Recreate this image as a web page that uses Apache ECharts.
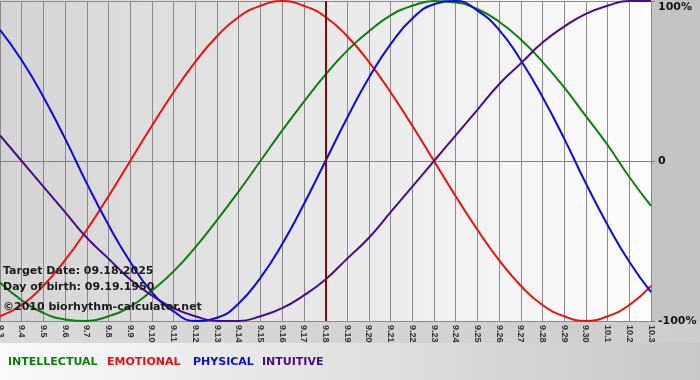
<!DOCTYPE html>
<html><head><meta charset="utf-8">
<script src="https://cdn.jsdelivr.net/npm/echarts@6.0.0/dist/echarts.min.js"></script>
<style>html,body{margin:0;padding:0;background:#c4c4c4}#c{width:700px;height:380px}</style>
</head><body><div id="c"></div>
<script>
const days = ['9.3','9.4','9.5','9.6','9.7','9.8','9.9','9.10','9.11','9.12','9.13','9.14','9.15','9.16','9.17','9.18','9.19','9.20','9.21','9.22','9.23','9.24','9.25','9.26','9.27','9.28','9.29','9.30','10.1','10.2','10.3'];
const intellectual = [-0.76,-0.87,-0.95,-0.99,-1.00,-0.97,-0.91,-0.81,-0.69,-0.54,-0.37,-0.19,0,0.19,0.37,0.54,0.69,0.81,0.91,0.97,1.00,0.99,0.95,0.87,0.76,0.62,0.46,0.28,0.10,-0.10,-0.28];
const emotional = [-0.97,-0.90,-0.78,-0.62,-0.43,-0.22,0,0.22,0.43,0.62,0.78,0.90,0.97,1.00,0.97,0.90,0.78,0.62,0.43,0.22,0,-0.22,-0.43,-0.62,-0.78,-0.90,-0.97,-1.00,-0.97,-0.90,-0.78];
const physical = [0.82,0.63,0.40,0.14,-0.14,-0.40,-0.63,-0.82,-0.94,-1.00,-0.98,-0.89,-0.73,-0.52,-0.27,0,0.27,0.52,0.73,0.89,0.98,1.00,0.94,0.82,0.63,0.40,0.14,-0.14,-0.40,-0.63,-0.82];
const intuitive = [0.16,0,-0.16,-0.32,-0.48,-0.61,-0.74,-0.84,-0.92,-0.97,-1.00,-1.00,-0.97,-0.92,-0.84,-0.74,-0.61,-0.48,-0.32,-0.16,0,0.16,0.32,0.48,0.61,0.74,0.84,0.92,0.97,1.00,1.00];
const targetDay = '9.18';
const legendNames = ['INTELLECTUAL','EMOTIONAL','PHYSICAL','INTUITIVE'];
const infoLines = ['Target Date: 09.18.2025','Day of birth: 09.19.1950','\u00a92010 biorhythm-calculator.net'];

const colors = {INTELLECTUAL:'#0a800a', EMOTIONAL:'#e81010', PHYSICAL:'#0c0cd8', INTUITIVE:'#4a0c86'};
const chart = echarts.init(document.getElementById('c'), null, {renderer:'canvas'});
const font = 'DejaVu Sans';
function lineSeries(name, data, extra){
  return Object.assign({name, type:'line', data, smooth:true, symbol:'none',
    lineStyle:{color:colors[name], width:2}, itemStyle:{color:colors[name]}, z:3}, extra||{});
}
const legendX = [8,107,193,262];
const infoY = [271,287,307];
chart.setOption({
  animation:false,
  backgroundColor:'#c3c3c3',
  grid:{left:0, right:49, top:1, bottom:59, outerBoundsMode:'none', containLabel:false},
  xAxis:{type:'category', data:days, boundaryGap:false,
    axisLine:{show:true, lineStyle:{color:'#808080', width:1}},
    axisTick:{show:true, length:4, interval:0, lineStyle:{color:'#808080'}},
    splitLine:{show:true, interval:0, lineStyle:{color:'#8a8a8a', width:1}},
    axisLabel:{interval:0, rotate:-90, margin:4, fontSize:9, fontWeight:'bold', fontFamily:'Liberation Sans', color:'#333', showMinLabel:true, showMaxLabel:true, hideOverlap:false}
  },
  yAxis:{type:'value', position:'right', min:-1, max:1, interval:1,
    axisLine:{show:false},
    axisTick:{show:true, length:4, lineStyle:{color:'#808080'}},
    splitLine:{show:true, lineStyle:{color:'#8a8a8a', width:1}},
    axisLabel:{margin:7, fontSize:11, fontWeight:'bold', fontFamily:font, color:'#151515',
      formatter:function(v){ if(v===1) return '{t|100%}'; if(v===0) return '0'; return '-100%'; },
      rich:{t:{fontSize:11, fontWeight:'bold', fontFamily:font, color:'#151515', padding:[12,0,0,0]}}
    }
  },
  graphic:{elements:[
    {type:'rect', z:-5, shape:{x:0,y:0,width:651,height:321}, style:{fill:new echarts.graphic.LinearGradient(0,0,1,0,[{offset:0,color:'#d4d4d4'},{offset:1,color:'#fdfdfd'}])}},
    {type:'rect', z:-5, shape:{x:0,y:321,width:700,height:22}, style:{fill:new echarts.graphic.LinearGradient(0,0,1,0,[{offset:0,color:'#dadada'},{offset:1,color:'#cdcdcd'}])}},
    {type:'rect', z:-5, shape:{x:0,y:343,width:700,height:37}, style:{fill:new echarts.graphic.LinearGradient(0,0,1,0,[{offset:0,color:'#fafafa'},{offset:1,color:'#c8c8c8'}])}}
  ].concat(legendNames.map((n,i)=>({type:'text', z:100, x:legendX[i], y:362,
      style:{text:n, fill:colors[n], font:'bold 11px "'+font+'"', textVerticalAlign:'middle', textAlign:'left'}})))
   .concat(infoLines.map((t,i)=>({type:'text', z:100, x:3, y:infoY[i],
      style:{text:t, fill:'#1a1a1a', font:'bold 11px "'+font+'"', textVerticalAlign:'middle', textAlign:'left'}})))
  },
  series:[
    lineSeries('INTELLECTUAL', intellectual),
    lineSeries('EMOTIONAL', emotional, {markLine:{silent:true, symbol:'none', label:{show:false},
      lineStyle:{color:'#7a0c0c', width:2, type:'solid'}, data:[{xAxis:targetDay}]}}),
    lineSeries('PHYSICAL', physical),
    lineSeries('INTUITIVE', intuitive)
  ]
});
</script></body></html>
